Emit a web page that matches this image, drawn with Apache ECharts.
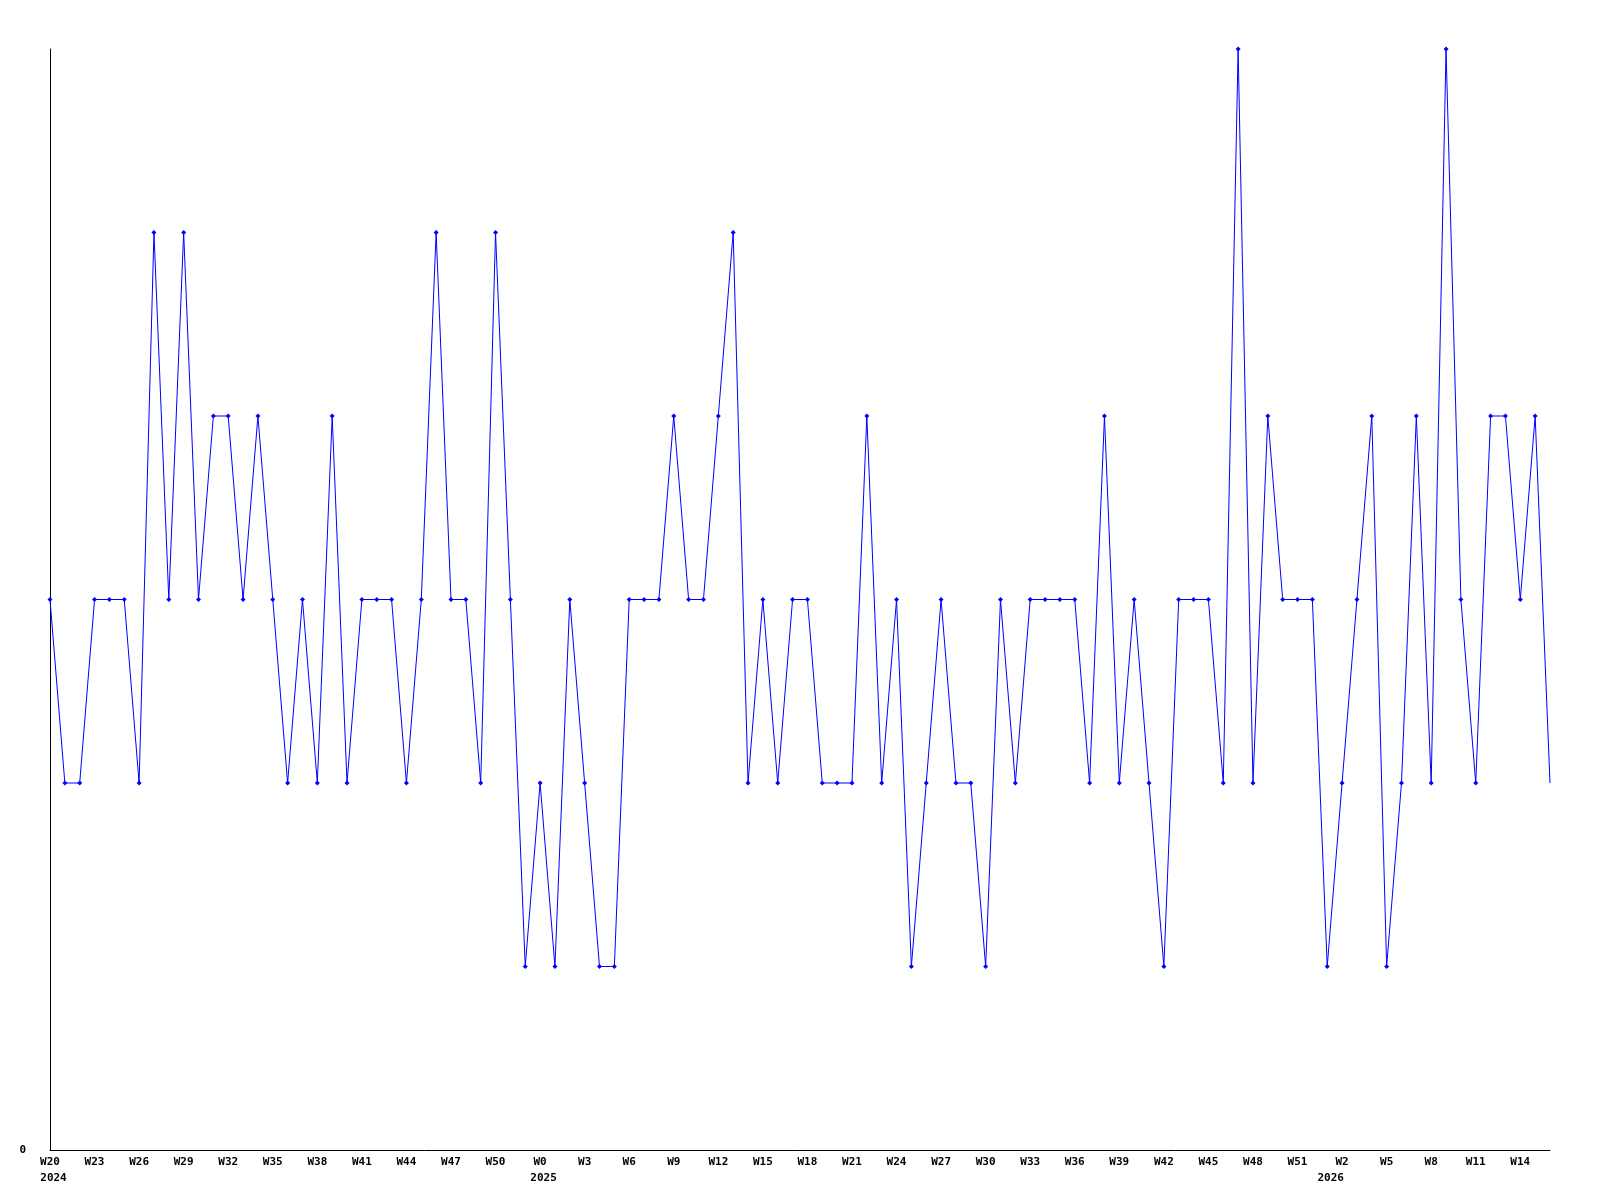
<!DOCTYPE html>
<html>
<head>
<meta charset="utf-8">
<script src="https://cdn.jsdelivr.net/npm/echarts@6/dist/echarts.min.js"></script>
<style>
  html, body { margin: 0; padding: 0; background: #fff; }
  #chart { width: 1600px; height: 1200px; }
</style>
</head>
<body>
<div id="chart"></div>
<script>
// week labels, one per data point
var weeks = [
  'W20','W21','W22','W23','W24','W25','W26','W27','W28','W29','W30','W31','W32','W33','W34','W35','W36',
  'W37','W38','W39','W40','W41','W42','W43','W44','W45','W46','W47','W48','W49','W50','W51','W52',
  'W0','W1','W2','W3','W4','W5','W6','W7','W8','W9','W10','W11','W12','W13','W14','W15','W16','W17',
  'W18','W19','W20','W21','W22','W23','W24','W25','W26','W27','W28','W29','W30','W31','W32','W33','W34',
  'W35','W36','W37','W38','W39','W40','W41','W42','W43','W44','W45','W46','W47','W48','W49','W50','W51','W52',
  'W1','W2','W3','W4','W5','W6','W7','W8','W9','W10','W11','W12','W13','W14','W15','W16'
];
// year label sits under the first point of each year
var yearStarts = { 0: '2024', 33: '2025', 86: '2026' };

var counts = [
  3,2,2,3,3,3,2,5,3,5,
  3,4,4,3,4,3,2,3,2,4,
  2,3,3,3,2,3,5,3,3,2,
  5,3,1,2,1,3,2,1,1,3,
  3,3,4,3,3,4,5,2,3,2,
  3,3,2,2,2,4,2,3,1,2,
  3,2,2,1,3,2,3,3,3,3,
  2,4,2,3,2,1,3,3,3,2,
  6,2,4,3,3,3,1,2,3,4,
  1,2,4,2,6,3,2,4,4,3,
  4,2
];

var yMax = 6;

var chart = echarts.init(document.getElementById('chart'));

var seriesData = [];
for (var i = 0; i < counts.length; i++) {
  if (i === counts.length - 1) {
    seriesData.push({ value: counts[i], symbol: 'none' });   // last point has no marker
  } else {
    seriesData.push(counts[i]);
  }
}

var labelFont = {
  color: '#000',
  fontFamily: 'DejaVu Sans Mono',
  fontWeight: 'bold',
  fontSize: 11
};

chart.setOption({
  animation: false,
  backgroundColor: '#fff',
  grid: {
    left: 50,
    right: 50,
    top: 49,
    bottom: 50,
    containLabel: false
  },
  xAxis: [
    {
      type: 'category',
      boundaryGap: false,
      data: weeks,
      axisLine: { show: true, lineStyle: { color: '#000', width: 1 } },
      axisTick: { show: false },
      splitLine: { show: false },
      axisLabel: Object.assign({ interval: 2, margin: 7 }, labelFont)
    },
    {
      type: 'category',
      position: 'bottom',
      boundaryGap: false,
      data: weeks,
      axisLine: { show: false },
      axisTick: { show: false },
      splitLine: { show: false },
      axisLabel: Object.assign({
        margin: 23,
        padding: [0, 0, 0, 7],
        hideOverlap: false,
        interval: function (index) { return yearStarts[index] !== undefined; },
        formatter: function (value, index) { return yearStarts[index] || ''; }
      }, labelFont)
    }
  ],
  yAxis: {
    type: 'value',
    min: 0,
    max: yMax,
    interval: yMax,
    axisLine: { show: true, lineStyle: { color: '#000', width: 1 } },
    axisTick: { show: false },
    splitLine: { show: false },
    axisLabel: Object.assign({
      margin: 24,
      formatter: function (v) { return v === 0 ? '0' : ''; }
    }, labelFont)
  },
  series: [
    {
      type: 'line',
      xAxisIndex: 0,
      data: seriesData,
      symbol: 'diamond',
      symbolSize: 5,
      showAllSymbol: true,
      lineStyle: { color: '#0000ff', width: 1 },
      itemStyle: { color: '#0000ff' }
    }
  ]
});
</script>
</body>
</html>
